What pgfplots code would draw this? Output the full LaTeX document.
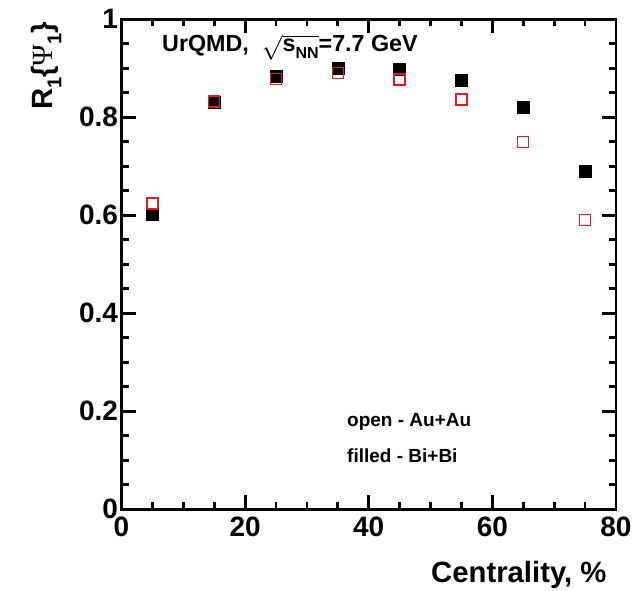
\documentclass[border=0pt]{standalone}
\usepackage{pgfplots}
\pgfplotsset{compat=1.18}
\usepackage{fontspec}
\setmainfont{Liberation Sans}
\newfontfamily\psifont{Liberation Serif}
\definecolor{rootred}{RGB}{225,30,30}
\newcommand{\lowsub}[2]{\raisebox{-0.3em}{\fontsize{#1}{#1}\selectfont #2}}
\begin{document}
\begin{tikzpicture}
\useasboundingbox (-121.5pt,-80.7pt) rectangle (513.5pt,509.3pt);
\begin{axis}[
  at={(0,0)}, anchor=south west,
  scale only axis,
  width=494.5pt, height=490pt,
  xmin=0, xmax=80, ymin=0, ymax=1,
  xtick={0,20,40,60,80},
  ytick={0,0.2,0.4,0.6,0.8,1},
  minor x tick num=3,
  minor y tick num=3,
  tick align=inside,
  major tick length=14pt,
  minor tick length=7pt,
  axis line style={line width=2.8pt},
  every tick/.style={line width=2.8pt, black},
  tick label style={font=\fontsize{28}{30}\selectfont\bfseries},
  xticklabel style={yshift=-4pt},
  /pgf/number format/assume math mode=true,
  yticklabel style={/pgf/number format/fixed, /pgf/number format/precision=1},
  clip=false,
]
\addplot[only marks, mark=square*, mark size=6pt, mark options={fill=black, draw=none}]
  coordinates {(5,0.603) (15,0.831) (25,0.884) (35,0.900) (45,0.899) (55,0.875) (65,0.820) (75,0.690)};
\addplot[only marks, mark=square, mark size=5.5pt, mark options={draw=rootred, line width=1.4pt, fill=none}]
  coordinates {(5,0.624) (15,0.832) (25,0.878) (35,0.890) (45,0.877) (55,0.836) (65,0.750) (75,0.591)};
\end{axis}
\node[anchor=base west, inner sep=0pt, font=\fontsize{23.3}{25}\selectfont\bfseries] at (40.5pt,457.6pt)
  {UrQMD,\ \ $\sqrt{\mbox{\fontsize{23.3}{25}\selectfont\bfseries s\lowsub{16}{NN}}}$=7.7 GeV};
\node[anchor=base west, inner sep=0pt, font=\fontsize{19}{21}\selectfont\bfseries] at (225.5pt,83.3pt) {open - Au+Au};
\node[anchor=base west, inner sep=0pt, font=\fontsize{19}{21}\selectfont\bfseries] at (225.5pt,47.3pt) {filled - Bi+Bi};
\node[anchor=base east, inner sep=0pt, font=\fontsize{29.3}{31}\selectfont\bfseries] at (485.2pt,-73.4pt) {Centrality, \%};
\node[anchor=base east, rotate=90, inner sep=0pt, font=\fontsize{29.3}{31}\selectfont\bfseries] at (-68.8pt,487.6pt)
  {R\lowsub{20}{1}\{{\psifont\mdseries Ψ}\lowsub{20}{1}\}};
\end{tikzpicture}
\end{document}
